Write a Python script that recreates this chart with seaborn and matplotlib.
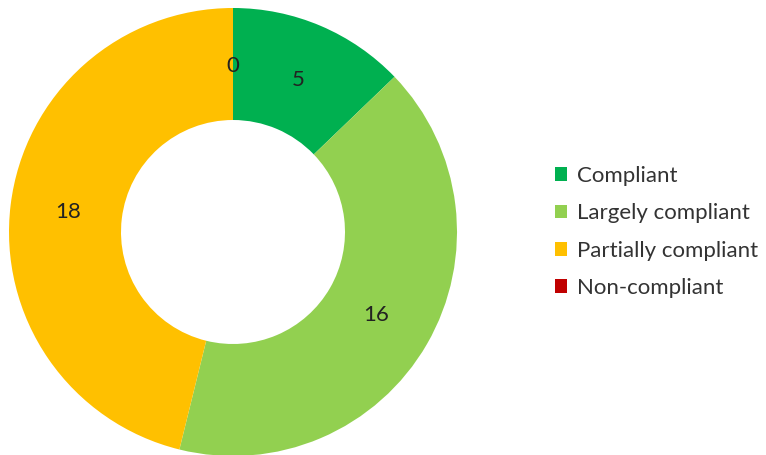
import matplotlib
matplotlib.use("Agg")
import matplotlib.pyplot as plt
import seaborn as sns

categories = ["Compliant", "Largely compliant", "Partially compliant", "Non-compliant"]
values = [5, 16, 18, 0]
colors = ["#00B050", "#92D050", "#FFC000", "#C00000"]

sns.set_theme(style="white")
plt.rcParams["font.family"] = ["Lato", "DejaVu Sans"]

fig = plt.figure(figsize=(7.66, 4.55), dpi=100)
cx, cy, R = 233, 232, 224
ax = fig.add_axes([(cx - R) / 766, (455 - cy - R) / 455, 2 * R / 766, 2 * R / 455])

total = sum(values)
wedges, texts, autotexts = ax.pie(
    values,
    colors=colors,
    startangle=90,
    counterclock=False,
    radius=1.0,
    wedgeprops=dict(width=0.5, edgecolor="none"),
    autopct=lambda p: f"{round(p * total / 100)}",
    pctdistance=0.74,
    textprops=dict(fontsize=16, color="#222222"),
)
ax.set_xlim(-1, 1)
ax.set_ylim(-1, 1)
ax.set_aspect("equal")
ax.axis("off")

leg = fig.legend(
    wedges, categories,
    loc="upper left",
    bbox_to_anchor=(555 / 766, 1 - 166 / 455),
    frameon=False,
    fontsize=16,
    handlelength=0.55,
    handleheight=0.55,
    handletextpad=0.42,
    labelspacing=0.78,
    borderaxespad=0,
    borderpad=0,
)
for t in leg.get_texts():
    t.set_color("#333333")

fig.savefig("out.png", dpi=100)
